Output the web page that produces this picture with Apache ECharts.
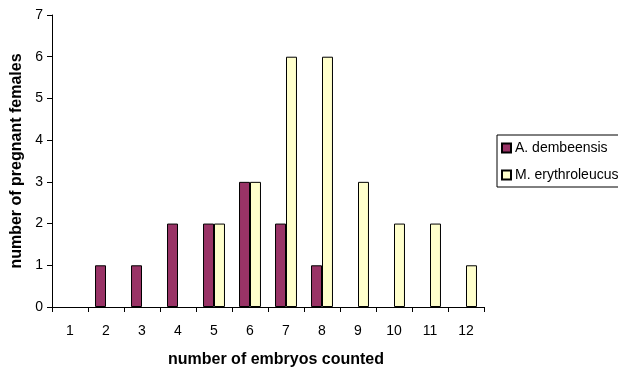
<!DOCTYPE html>
<html>
<head>
<meta charset="utf-8">
<script src="https://cdn.jsdelivr.net/npm/echarts@6/dist/echarts.min.js"></script>
<style>
  html, body { margin: 0; padding: 0; background: #fff; }
  #chart { width: 618px; height: 373px; }
</style>
</head>
<body>
<div id="chart"></div>
<script>
// Embryo counts per pregnant female, two rodent species
const embryoCounts = ['1', '2', '3', '4', '5', '6', '7', '8', '9', '10', '11', '12'];
const dembeensis = [0, 1, 1, 2, 2, 3, 2, 1, 0, 0, 0, 0];
const erythroleucus = [0, 0, 0, 0, 2, 3, 6, 6, 3, 2, 2, 1];
const seriesNames = ['A. dembeensis', 'M. erythroleucus'];

// empty counts get no bar at all (avoids a flat outlined sliver on the axis)
const asBars = arr => arr.map(v => (v === 0 ? null : v));

const font = 'Liberation Sans, Arial, sans-serif';
const chart = echarts.init(document.getElementById('chart'), null, { renderer: 'canvas' });

chart.setOption({
  animation: false,
  backgroundColor: '#ffffff',
  grid: { left: 52, right: 134, top: 15, bottom: 64 },
  legend: {
    orient: 'vertical',
    left: 497,
    top: 135,
    itemWidth: 9,
    itemHeight: 9,
    itemGap: 13,
    padding: [6, 20, 5, 4],
    borderColor: '#000',
    borderWidth: 1,
    icon: 'rect',
    textStyle: { fontFamily: font, fontSize: 14, color: '#000', padding: [0, 0, 0, -1] },
    data: seriesNames
  },
  xAxis: {
    type: 'category',
    data: embryoCounts,
    name: 'number of embryos counted',
    nameLocation: 'middle',
    nameGap: 45,
    nameTextStyle: { fontFamily: font, fontSize: 16, fontWeight: 'bold', color: '#000', padding: [0, 0, 0, 16] },
    axisLine: { lineStyle: { color: '#000', width: 1 } },
    axisTick: { show: true, length: 5, inside: false, lineStyle: { color: '#000' } },
    axisLabel: { fontFamily: font, fontSize: 14, color: '#000', margin: 17 },
    splitLine: { show: false }
  },
  yAxis: {
    type: 'value',
    min: 0,
    max: 7,
    interval: 1,
    name: 'number of pregnant females',
    nameLocation: 'middle',
    nameRotate: 90,
    nameGap: 26,
    nameTextStyle: { fontFamily: font, fontSize: 16, fontWeight: 'bold', color: '#000' },
    axisLine: { show: true, lineStyle: { color: '#000', width: 1 } },
    axisTick: { show: true, length: 5, lineStyle: { color: '#000' } },
    axisLabel: { fontFamily: font, fontSize: 14, color: '#000', margin: 9 },
    splitLine: { show: false }
  },
  series: [
    {
      name: seriesNames[0],
      type: 'bar',
      data: asBars(dembeensis),
      barGap: '0%',
      barCategoryGap: '39%',
      itemStyle: { color: '#993366', borderColor: '#000', borderWidth: 1 }
    },
    {
      name: seriesNames[1],
      type: 'bar',
      data: asBars(erythroleucus),
      barGap: '0%',
      barCategoryGap: '39%',
      itemStyle: { color: '#FFFFCC', borderColor: '#000', borderWidth: 1 }
    }
  ]
});
</script>
</body>
</html>
